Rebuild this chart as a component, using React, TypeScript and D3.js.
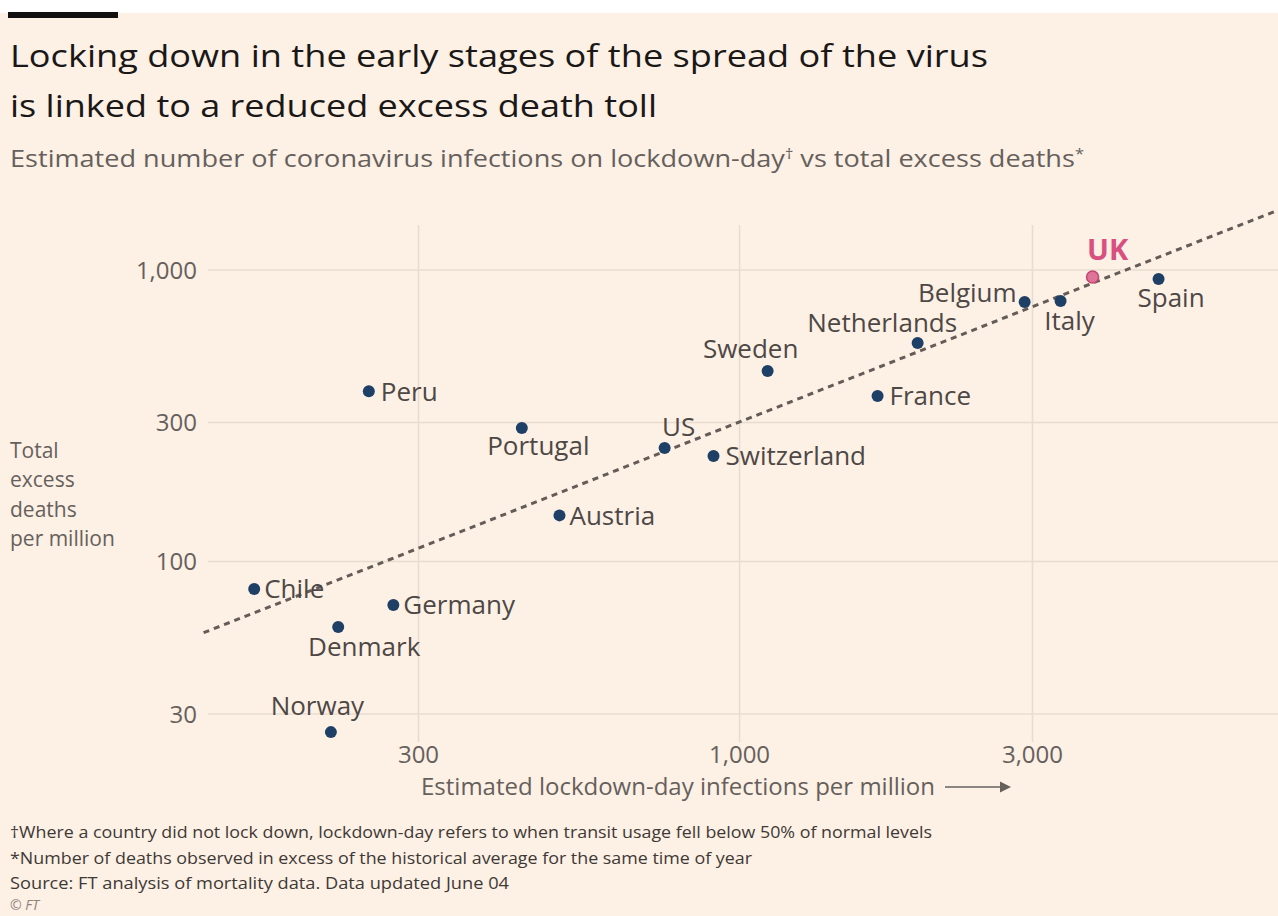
import React from "react";
import * as d3 from "d3";

const countries = ["Chile","Denmark","Norway","Peru","Germany","Portugal","Austria","US","Switzerland","Sweden","France","Netherlands","Belgium","Italy","UK","Spain"];
const infections = [162, 222, 216, 249, 273, 442, 509, 755, 907, 1111, 1678, 1950, 2913, 3333, 3758, 4813];
const deaths = [80.5, 59.6, 26.0, 384, 71, 287, 144, 245, 230, 450, 370, 562, 777, 783, 946, 931];
const trendX = [134, 7551];
const trendY = [57.0, 1607];
const xTicks = [300, 1000, 3000];
const yTicks = [30, 100, 300, 1000];
const yAxisTitle = ["Total", "excess", "deaths", "per million"];
const footnotes = [
  "\u2020Where a country did not lock down, lockdown-day refers to when transit usage fell below 50% of normal levels",
  "*Number of deaths observed in excess of the historical average for the same time of year",
  "Source: FT analysis of mortality data. Data updated June 04",
];
const footnoteWidths = [922, 742, 499];

// label placement: [anchor, dx, dy] (dy = offset of the text's visual centre)
const labelPos: Record<string, [string, number, number]> = {
  Chile: ["start", 10, 0],
  Denmark: ["middle", 26, 20],
  Norway: ["middle", -13.5, -26],
  Peru: ["start", 12, 0],
  Germany: ["start", 10, 0],
  Portugal: ["middle", 16.5, 17.5],
  Austria: ["start", 10, 0],
  US: ["middle", 14, -21],
  Switzerland: ["start", 12, 0],
  Sweden: ["middle", -17, -22.5],
  France: ["start", 12, 0],
  Netherlands: ["end", 39.5, -20.5],
  Belgium: ["end", -8, -9.5],
  Italy: ["middle", 9, 20],
  UK: ["middle", 15, -27.7],
  Spain: ["middle", 12.5, 18.5],
};

const W = 1278, H = 916;
const FONT = "'Open Sans', 'Noto Sans', sans-serif";

export default function App() {
  const x = d3.scaleLog().domain([300, 3000]).range([418.5, 1032.5]);
  const y = d3.scaleLog().domain([30, 1000]).range([714, 270]);
  const line = d3.line<[number, number]>().x(d => x(d[0])).y(d => y(d[1]));
  const trend: [number, number][] = trendX.map((v, i) => [v, trendY[i]]);
  const grid = "#e8dccf";
  const gray = "#66605c";
  const labelCol = "#4d4845";
  return (
    <svg width={W} height={H} style={{ position: "absolute", left: 0, top: 0 }} fontFamily={FONT}>
      <defs>
        <clipPath id="plotclip"><rect x={0} y={14} width={W} height={H} /></clipPath>
      </defs>
      <rect x={0} y={0} width={W} height={H} fill="#ffffff" />
      <rect x={0} y={13} width={W} height={H - 13} fill="#fdf0e5" />
      <rect x={8} y={12} width={110} height={6} fill="#111" />
      <text x={10} y={67} fontSize={31} fill="#1a1817" textLength={978} lengthAdjust="spacingAndGlyphs">Locking down in the early stages of the spread of the virus</text>
      <text x={10} y={117} fontSize={31} fill="#1a1817" textLength={647} lengthAdjust="spacingAndGlyphs">is linked to a reduced excess death toll</text>
      <text x={10} y={167} fontSize={23} fill={gray} textLength={1074} lengthAdjust="spacingAndGlyphs">Estimated number of coronavirus infections on lockdown-day<tspan fontSize={14} dy={-8}>{"\u2020"}</tspan><tspan dy={8}> vs total excess deaths</tspan><tspan fontSize={14} dy={-8}>*</tspan></text>

      {/* gridlines */}
      {yTicks.map(t => (
        <line key={"gy" + t} x1={208} x2={W} y1={y(t)} y2={y(t)} stroke={grid} strokeWidth={1.5} />
      ))}
      {xTicks.map(t => (
        <line key={"gx" + t} x1={x(t)} x2={x(t)} y1={225} y2={742} stroke={grid} strokeWidth={1.5} />
      ))}
      {yTicks.map(t => (
        <text key={"ty" + t} x={197} y={y(t)} dy="0.36em" textAnchor="end" fontSize={24} fill={gray}>{d3.format(",")(t)}</text>
      ))}
      {xTicks.map(t => (
        <text key={"tx" + t} x={x(t)} y={763} textAnchor="middle" fontSize={24} fill={gray}>{d3.format(",")(t)}</text>
      ))}
      {yAxisTitle.map((s, i) => (
        <text key={s} x={10} y={458 + i * 29.3} fontSize={21} fill={gray}>{s}</text>
      ))}
      <text x={421} y={795} fontSize={24} fill={gray} textLength={514} lengthAdjust="spacingAndGlyphs">Estimated lockdown-day infections per million</text>
      <line x1={945} x2={1002} y1={787} y2={787} stroke={gray} strokeWidth={1.5} />
      <path d="M1000,781.5 L1011,787 L1000,792.5 Z" fill={gray} />

      {/* trend line */}
      <path d={line(trend) || ""} fill="none" stroke="#635c57" strokeWidth={3} strokeDasharray="6 5" clipPath="url(#plotclip)" />

      {/* points */}
      {countries.map((c, i) => {
        const uk = c === "UK";
        return (
          <circle key={c} cx={x(infections[i])} cy={y(deaths[i])} r={6}
            fill={uk ? "#e0739a" : "#1e3f66"} stroke={uk ? "#c4456f" : "#1e3f66"} strokeWidth={uk ? 1.5 : 0} />
        );
      })}
      {countries.map((c, i) => {
        const [anchor, dx, dy] = labelPos[c];
        const uk = c === "UK";
        return (
          <text key={"l" + c} x={x(infections[i]) + dx} y={y(deaths[i]) + dy} dy="0.36em" textAnchor={anchor}
            fontSize={uk ? 29 : 26} fontWeight={uk ? 700 : 400} fill={uk ? "#d94f7f" : labelCol}>{c}</text>
        );
      })}

      {/* footnotes */}
      {footnotes.map((f, i) => (
        <text key={i} x={10} y={838 + i * 25.5} fontSize={17} fill="#3d3935" textLength={footnoteWidths[i]} lengthAdjust="spacingAndGlyphs">{f}</text>
      ))}
      <text x={10} y={910} fontSize={14} fill="#8a837e" fontStyle="italic">© FT</text>
    </svg>
  );
}
